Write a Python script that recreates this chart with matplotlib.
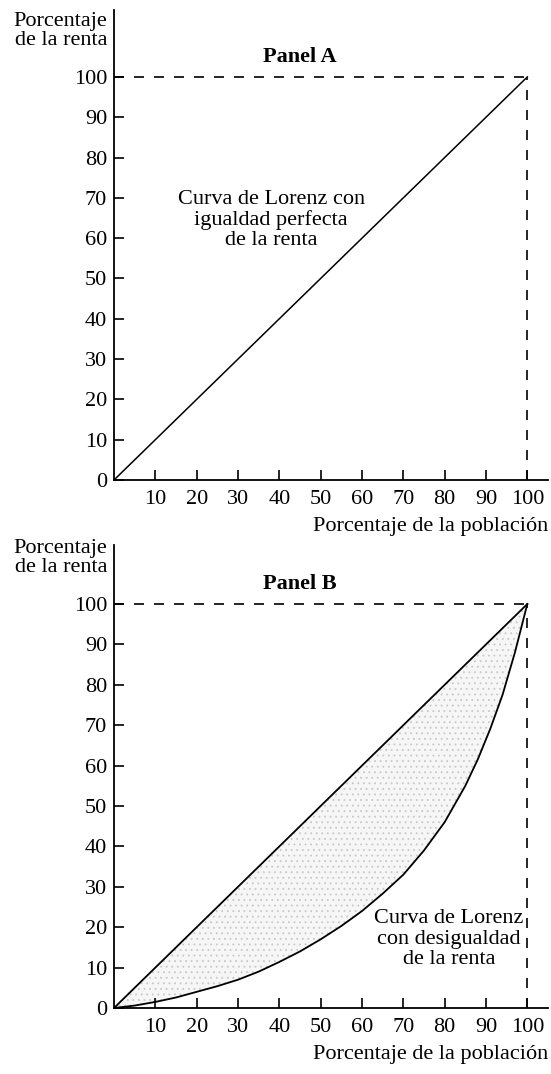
"""Lorenz curves: perfect equality (panel A) and income inequality (panel B)."""

import matplotlib
matplotlib.use("Agg")
import matplotlib.pyplot as plt

plt.rcParams["font.family"] = ["Liberation Serif", "DejaVu Serif"]
plt.rcParams["hatch.linewidth"] = 0.6

# data
equality_x = [0, 100]
equality_y = [0, 100]
lorenz_x = [0, 5, 10, 15, 20, 25, 30, 35, 40, 45, 50, 55, 60, 65, 70, 75, 80, 85, 88, 91, 94, 97, 100]
lorenz_y = [0, 0.6, 1.5, 2.6, 4, 5.4, 7, 9, 11.4, 14, 17, 20.3, 24, 28.3, 33, 39, 46, 55, 61.5, 69, 77.5, 88, 100]
x_ticks = [10, 20, 30, 40, 50, 60, 70, 80, 90, 100]
y_ticks = [0, 10, 20, 30, 40, 50, 60, 70, 80, 90, 100]

FONT = 16
W, H = 551, 1074


def style_axis(axis, title, top):
    axis.set_xlim(0, 105)
    axis.set_ylim(0, top)
    for side in ("top", "right"):
        axis.spines[side].set_visible(False)
    for side in ("left", "bottom"):
        axis.spines[side].set_linewidth(1.3)
    axis.set_xticks(x_ticks)
    axis.set_yticks(y_ticks)
    axis.tick_params(direction="in", length=7, width=1.2, labelsize=FONT)
    axis.tick_params(axis="y", pad=5)
    axis.tick_params(axis="x", pad=7)
    # dashed guide box
    axis.plot([0, 100], [100, 100], color="black", lw=1.2, dashes=(6, 6))
    axis.plot([100, 100], [0, 100], color="black", lw=1.2, dashes=(6, 6))
    axis.text(45, 105, title, ha="center", va="center", fontsize=FONT, fontweight="bold")
    axis.text(-0.015, 111.5, "Porcentaje\nde la renta", transform=axis.get_yaxis_transform(),
              ha="right", va="center", fontsize=FONT, linespacing=1.0)
    axis.text(1.0, -0.1, "Porcentaje de la población", transform=axis.transAxes,
              ha="right", va="center", fontsize=FONT)


fig = plt.figure(figsize=(W / 100, H / 100), dpi=100)

left = 114 / W
width = 434 / W

ax_a = fig.add_axes([left, (H - 480) / H, width, 470 / H])
style_axis(ax_a, "Panel A", 116.6)
ax_a.plot(equality_x, equality_y, color="black", lw=1.1)
ax_a.text(38, 64.5, "Curva de Lorenz con\nigualdad perfecta\nde la renta",
          ha="center", va="center", fontsize=FONT, linespacing=1.1)

ax_b = fig.add_axes([left, (H - 1008) / H, width, 463 / H])
style_axis(ax_b, "Panel B", 114.6)
# stippled shading between the two curves
ax_b.fill_between(lorenz_x, lorenz_y, lorenz_x, facecolor="#f6f6f6",
                  edgecolor="#c8c8c8", hatch="...", lw=0)
ax_b.plot(equality_x, equality_y, color="black", lw=1.3)
ax_b.plot(lorenz_x, lorenz_y, color="black", lw=1.3)
ax_b.text(81, 17, "Curva de Lorenz\ncon desigualdad\nde la renta",
          ha="center", va="center", fontsize=FONT, linespacing=1.1,
          bbox=dict(facecolor="white", edgecolor="none", pad=0.5))

fig.savefig("out.png", dpi=100)
